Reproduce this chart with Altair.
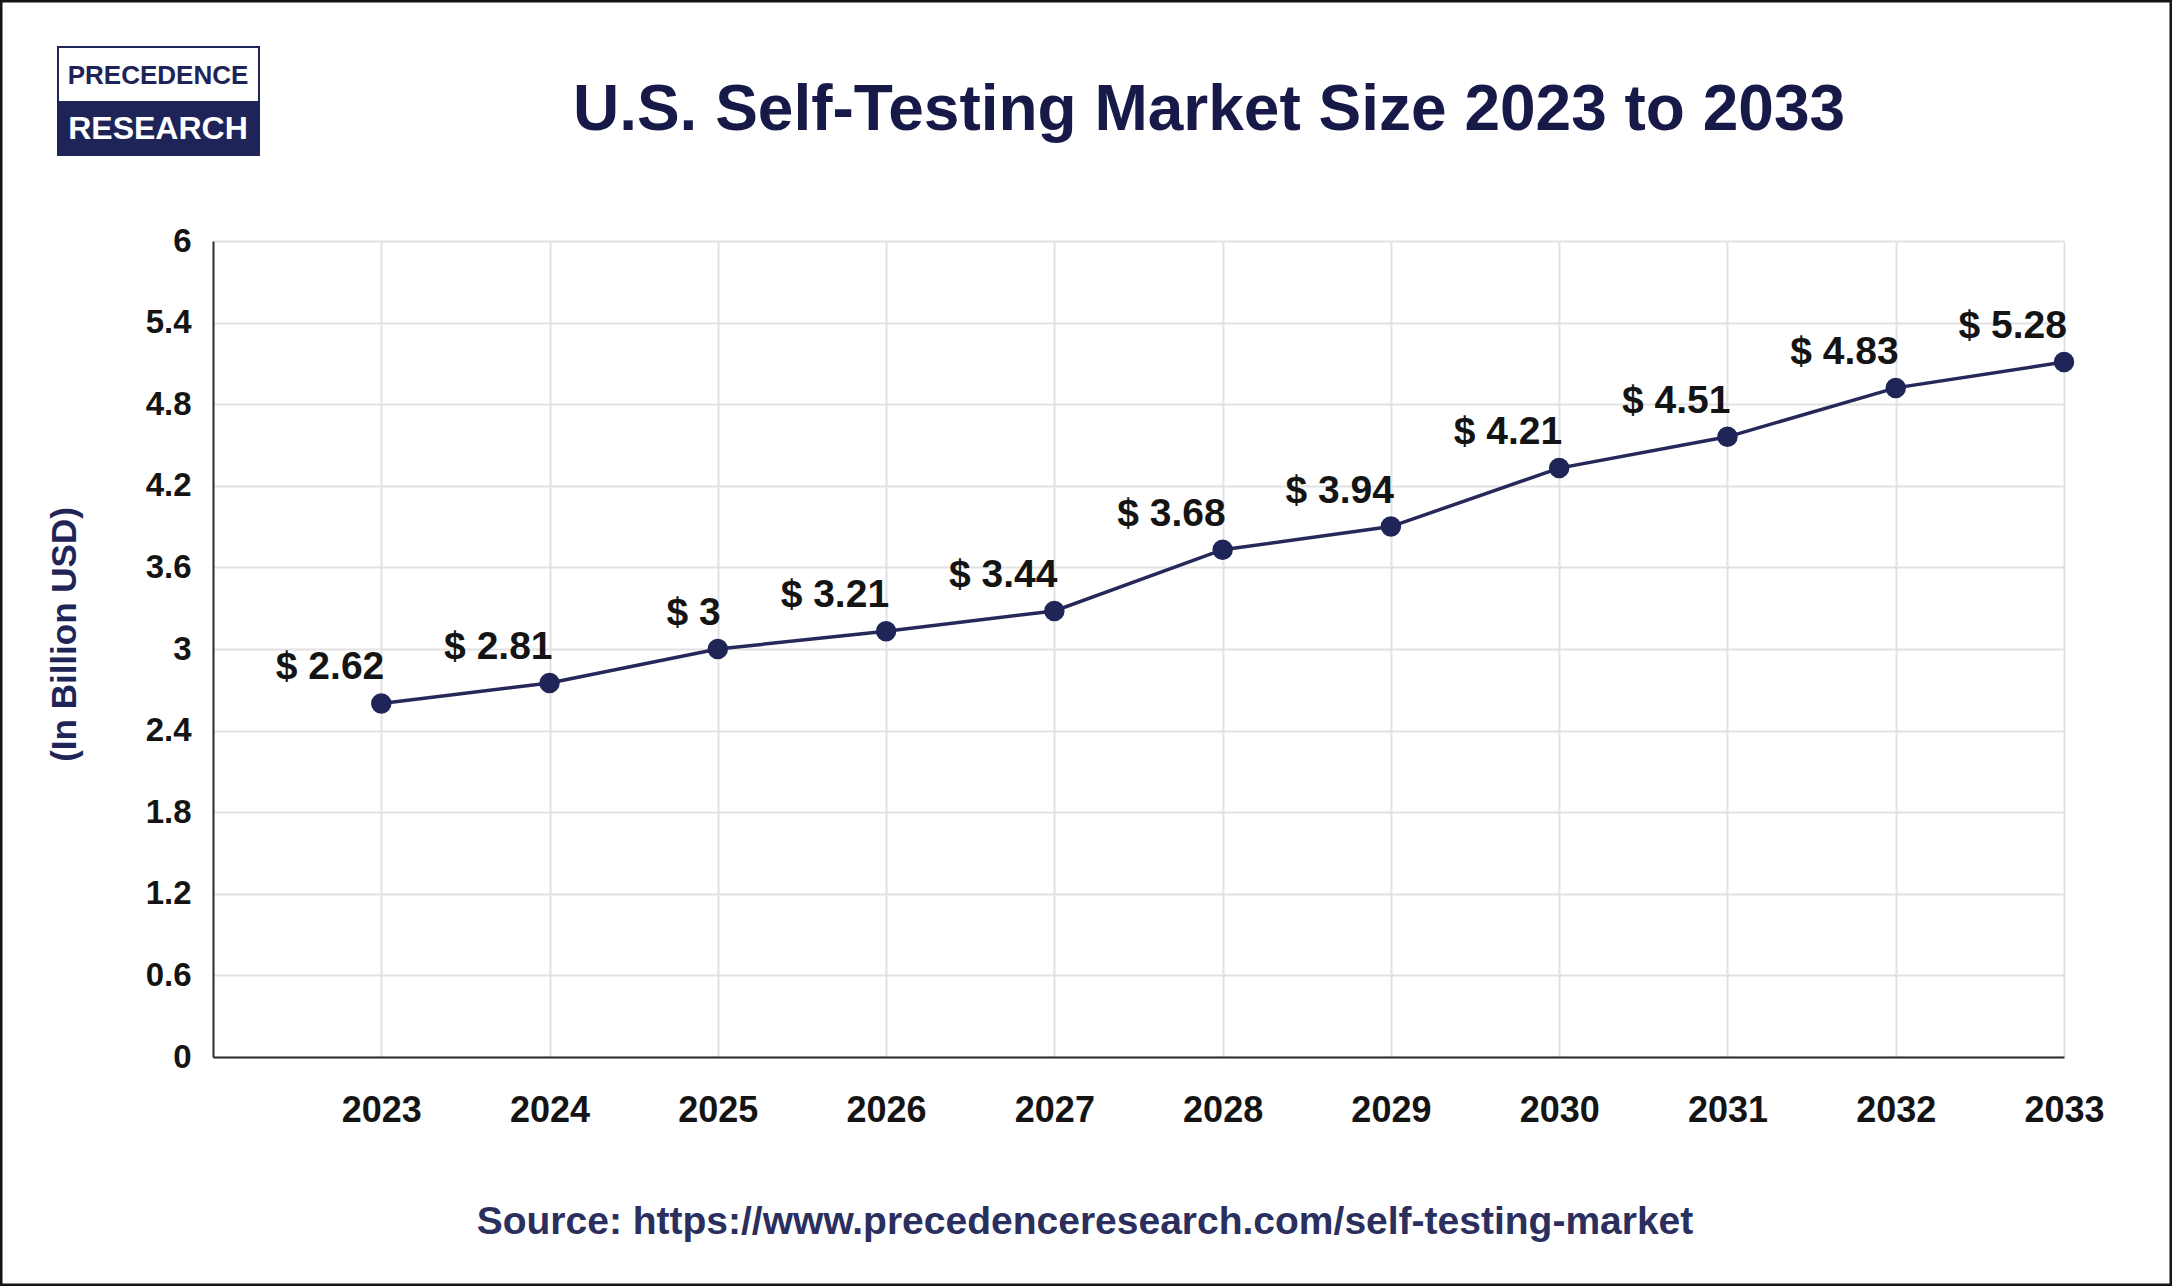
import altair as alt
import pandas as pd

# ---- data ----
years = [2023, 2024, 2025, 2026, 2027, 2028, 2029, 2030, 2031, 2032, 2033]
# plotted point heights (as drawn in the picture)
values = [2.60, 2.75, 3.00, 3.13, 3.28, 3.73, 3.90, 4.33, 4.56, 4.92, 5.11]
# data-label texts (as printed in the picture)
labels = ["$ 2.62", "$ 2.81", "$ 3", "$ 3.21", "$ 3.44", "$ 3.68",
          "$ 3.94", "$ 4.21", "$ 4.51", "$ 4.83", "$ 5.28"]
y_ticks = [0, 0.6, 1.2, 1.8, 2.4, 3, 3.6, 4.2, 4.8, 5.4, 6]

title_text = "U.S. Self-Testing Market Size 2023 to 2033"
source_text = "Source: https://www.precedenceresearch.com/self-testing-market"
y_title = "(In Billion USD)"
logo_top = "PRECEDENCE"
logo_bottom = "RESEARCH"

df = pd.DataFrame({"year": years, "value": values, "label": labels})

FONT = "Liberation Sans"
NAVY = "#1f2557"
LINE = "#27285a"

# plot area geometry (pixels)
PL, PT, PW, PH = 213, 241, 1851, 816
TOTAL_W, TOTAL_H = 2172, 1286

x_enc = alt.X(
    "year:Q",
    scale=alt.Scale(domain=[2022, 2033], nice=False, zero=False),
    axis=alt.Axis(
        values=years, format="d", title=None, ticks=False,
        labelFont=FONT, labelFontSize=36, labelFontWeight="bold", labelColor="#141414",
        labelPadding=36, labelBaseline="top", labelFlush=False, labelOverlap=False,
        grid=True, gridColor="#e2e2e2", gridWidth=2,
        domainColor="#2b2b2b", domainWidth=2,
    ),
)
y_enc = alt.Y(
    "value:Q",
    scale=alt.Scale(domain=[0, 6], nice=False),
    axis=alt.Axis(
        values=y_ticks, format="~g", ticks=False,
        labelFont=FONT, labelFontSize=33, labelFontWeight="bold", labelColor="#141414",
        labelPadding=22,
        grid=True, gridColor="#e2e2e2", gridWidth=2,
        domainColor="#2b2b2b", domainWidth=2,
        title=y_title, titleFont=FONT, titleFontSize=35, titleFontWeight="bold",
        titleColor=NAVY, titleX=64 - PL, titleY=634 - PT, titleAngle=270,
        titleAlign="center", titleBaseline="middle",
    ),
)

base = alt.Chart(df)
line = base.mark_line(color=LINE, strokeWidth=3.5).encode(x=x_enc, y=y_enc)
points = base.mark_circle(color=NAVY, opacity=1, size=420).encode(x="year:Q", y="value:Q")
texts = base.mark_text(
    align="right", baseline="middle", dx=3, dy=-36,
    font=FONT, fontSize=39, fontWeight="bold", color="#141414",
).encode(x="year:Q", y="value:Q", text="label:N")

one = pd.DataFrame({"t": [title_text], "s": [source_text], "a": [logo_top], "b": [logo_bottom]})
deco = alt.Chart(one)

title = deco.mark_text(
    align="center", baseline="alphabetic", font=FONT, fontSize=64,
    fontWeight="bold", color="#171a48",
).encode(x=alt.value(1209 - PL), y=alt.value(130 - PT), text="t:N")

source = deco.mark_text(
    align="center", baseline="alphabetic", font=FONT, fontSize=39,
    fontWeight="bold", color="#2b2f5e",
).encode(x=alt.value(1085 - PL), y=alt.value(1234 - PT), text="s:N")

logo_box_top = deco.mark_rect(fill="white", stroke=NAVY, strokeWidth=2).encode(
    x=alt.value(58 - PL), x2=alt.value(259 - PL), y=alt.value(47 - PT), y2=alt.value(102 - PT))
logo_box_bot = deco.mark_rect(fill="#1e2458", stroke=NAVY, strokeWidth=2).encode(
    x=alt.value(58 - PL), x2=alt.value(259 - PL), y=alt.value(102 - PT), y2=alt.value(155 - PT))
logo_t1 = deco.mark_text(
    align="center", baseline="middle", font=FONT, fontSize=26, fontWeight="bold", color="#1e2458",
).encode(x=alt.value(158 - PL), y=alt.value(76 - PT), text="a:N")
logo_t2 = deco.mark_text(
    align="center", baseline="middle", font=FONT, fontSize=32, fontWeight="bold", color="white",
).encode(x=alt.value(158 - PL), y=alt.value(129 - PT), text="b:N")

border = deco.mark_rect(fill="transparent", stroke="#151515", strokeWidth=5).encode(
    x=alt.value(-PL), x2=alt.value(TOTAL_W - PL), y=alt.value(-PT), y2=alt.value(TOTAL_H - PT))

chart = alt.layer(
    line, points, texts, title, source,
    logo_box_top, logo_box_bot, logo_t1, logo_t2, border,
).properties(
    width=PW, height=PH,
    padding={"left": PL, "top": PT, "right": TOTAL_W - PL - PW, "bottom": TOTAL_H - PT - PH},
    autosize=alt.AutoSizeParams(type="none"),
    background="white",
).configure_view(stroke=None)

chart.save("out.html", embed_options={"renderer": "svg", "actions": False})
